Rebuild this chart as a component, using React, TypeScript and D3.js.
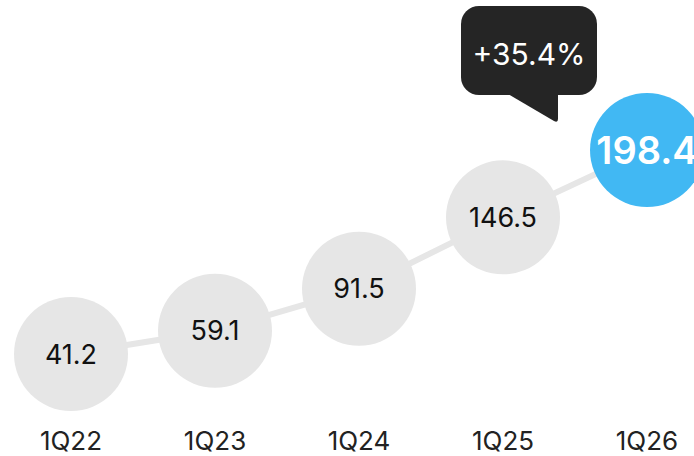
import React from "react";
import * as d3 from "d3";

const categories = ["1Q22", "1Q23", "1Q24", "1Q25", "1Q26"];
const values = [41.2, 59.1, 91.5, 146.5, 198.4];
const growthLabel = "+35.4%";

const W = 694;
const H = 456;

export default function App() {
  const x = d3.scalePoint<string>().domain(categories).range([71, 647]);
  const y = d3.scaleLinear().domain([41.2, 198.4]).range([354, 150]);
  const line = d3
    .line<number>()
    .x((_, i) => x(categories[i]) as number)
    .y((d) => y(d));
  const last = values.length - 1;
  const font = "Inter, 'Noto Sans', sans-serif";

  // tooltip geometry
  const tx0 = 461, tx1 = 597, ty0 = 6, ty1 = 95, r = 18;
  const tipPath = `M${508},${ty1 - 1} L${558},${ty1 - 1} L${558},${119} Q${558},${123} ${554},${121} Z`;

  return (
    <svg
      width={W}
      height={H}
      style={{ position: "absolute", left: 0, top: 0, display: "block" }}
    >
      <rect width={W} height={H} fill="#ffffff" />
      <path d={line(values) || ""} fill="none" stroke="#e6e6e6" strokeWidth={6} />
      {values.map((v, i) => {
        const cx = x(categories[i]) as number;
        const cy = y(v);
        const isLast = i === last;
        return (
          <g key={categories[i]}>
            <circle cx={cx} cy={cy} r={57} fill={isLast ? "#41b8f3" : "#e6e6e6"} />
            <text
              x={cx}
              y={cy}
              dy="0.36em"
              textAnchor="middle"
              fontFamily={font}
              fontSize={isLast ? 38 : 27}
              fontWeight={isLast ? 600 : 400}
              fill={isLast ? "#ffffff" : "#111111"}
            >
              {v.toFixed(1)}
            </text>
            <text
              x={cx}
              y={450}
              textAnchor="middle"
              fontFamily={font}
              fontSize={26}
              fill="#222222"
            >
              {categories[i]}
            </text>
          </g>
        );
      })}
      <rect x={tx0} y={ty0} width={tx1 - tx0} height={ty1 - ty0} rx={r} ry={r} fill="#252525" />
      <path d={tipPath} fill="#252525" />
      <text
        x={(tx0 + tx1) / 2}
        y={65}
        textAnchor="middle"
        fontFamily={font}
        fontSize={30}
        fontWeight={400}
        fill="#ffffff"
      >
        {growthLabel}
      </text>
    </svg>
  );
}
